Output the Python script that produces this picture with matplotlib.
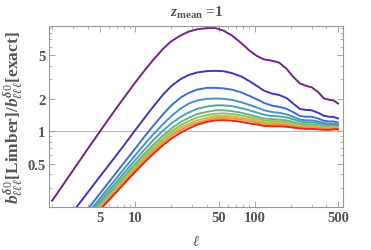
import matplotlib
matplotlib.use("Agg")
import matplotlib.pyplot as plt
from matplotlib.ticker import FixedLocator, NullFormatter

plt.rcParams["mathtext.fontset"] = "custom"
plt.rcParams["mathtext.rm"] = "Liberation Serif"
plt.rcParams["mathtext.it"] = "Liberation Serif:italic:bold"
plt.rcParams["mathtext.bf"] = "Liberation Serif:bold"

# multipole grid
ell = [2, 2.5, 3, 4, 5, 6, 7, 8, 10, 12, 14, 17, 20, 24, 28, 33, 40, 47, 55, 65, 77, 90,
       105, 120, 140, 160, 185, 210, 240, 270, 300, 340, 380, 420, 460, 500]

# ratio b[Limber]/b[exact], one list per curve (purple -> red)
r_purple = [0.229, 0.327, 0.438, 0.693, 0.986, 1.31, 1.66, 2.03, 2.83, 3.66, 4.51, 5.73, 6.75, 7.65, 8.28, 8.7,
            8.91, 8.91, 8.43, 7.57, 6.5, 5.56, 4.91, 4.59, 4.46, 4.29, 3.76, 3.18, 2.75, 2.62, 2.54, 2.3,
            2.01, 1.95, 1.92, 1.8]
r_indigo = [0.102, 0.141, 0.182, 0.275, 0.379, 0.491, 0.612, 0.741, 1.03, 1.34, 1.67, 2.17, 2.61, 3.03, 3.3, 3.48,
            3.58, 3.6, 3.57, 3.42, 3.2, 2.9, 2.6, 2.36, 2.22, 2.16, 2.02, 1.8, 1.6, 1.57, 1.56, 1.48,
            1.39, 1.36, 1.35, 1.31]
r_blue = [0.073, 0.1, 0.129, 0.193, 0.264, 0.341, 0.424, 0.511, 0.698, 0.902, 1.11, 1.43, 1.73, 2.05, 2.26, 2.42,
          2.51, 2.51, 2.48, 2.41, 2.28, 2.12, 1.96, 1.82, 1.72, 1.68, 1.61, 1.5, 1.38, 1.36, 1.36, 1.31,
          1.25, 1.23, 1.23, 1.2]
r_ltblue = [0.069, 0.093, 0.119, 0.176, 0.238, 0.305, 0.375, 0.449, 0.604, 0.765, 0.929, 1.16, 1.38, 1.62, 1.8, 1.92,
            1.99, 2.0, 1.99, 1.94, 1.85, 1.75, 1.65, 1.56, 1.5, 1.48, 1.43, 1.36, 1.28, 1.26, 1.26, 1.23,
            1.19, 1.17, 1.17, 1.15]
r_teal = [0.068, 0.09, 0.115, 0.167, 0.223, 0.282, 0.345, 0.41, 0.546, 0.684, 0.82, 1.01, 1.18, 1.36, 1.49, 1.61,
          1.69, 1.73, 1.73, 1.7, 1.63, 1.56, 1.48, 1.42, 1.38, 1.37, 1.34, 1.29, 1.23, 1.21, 1.21, 1.19,
          1.15, 1.14, 1.14, 1.13]
r_green = [0.066, 0.0875, 0.11, 0.159, 0.211, 0.265, 0.323, 0.382, 0.504, 0.627, 0.746, 0.912, 1.06, 1.22, 1.33, 1.44,
           1.51, 1.56, 1.56, 1.53, 1.48, 1.42, 1.36, 1.31, 1.29, 1.28, 1.26, 1.22, 1.17, 1.16, 1.16, 1.14,
           1.11, 1.11, 1.11, 1.11]
r_ygreen = [0.064, 0.085, 0.107, 0.153, 0.202, 0.254, 0.308, 0.364, 0.478, 0.592, 0.703, 0.857, 0.993, 1.14, 1.24, 1.34,
            1.41, 1.45, 1.46, 1.44, 1.4, 1.35, 1.3, 1.26, 1.24, 1.23, 1.21, 1.18, 1.14, 1.13, 1.13, 1.11,
            1.09, 1.09, 1.1, 1.09]
r_yellow = [0.064, 0.084, 0.105, 0.15, 0.198, 0.247, 0.299, 0.352, 0.459, 0.568, 0.673, 0.817, 0.944, 1.08, 1.17, 1.26,
            1.33, 1.38, 1.385, 1.37, 1.33, 1.29, 1.25, 1.21, 1.19, 1.19, 1.17, 1.14, 1.11, 1.1, 1.1, 1.09,
            1.07, 1.07, 1.08, 1.07]
r_orange = [0.063, 0.083, 0.103, 0.147, 0.193, 0.24, 0.29, 0.341, 0.445, 0.548, 0.649, 0.785, 0.906, 1.03, 1.12, 1.2,
            1.27, 1.32, 1.325, 1.31, 1.28, 1.24, 1.2, 1.17, 1.15, 1.15, 1.14, 1.11, 1.09, 1.08, 1.08, 1.07,
            1.05, 1.05, 1.06, 1.06]
r_red = [0.062, 0.081, 0.101, 0.143, 0.187, 0.232, 0.279, 0.327, 0.425, 0.521, 0.615, 0.743, 0.855, 0.97, 1.06, 1.15,
         1.22, 1.26, 1.265, 1.25, 1.22, 1.18, 1.15, 1.12, 1.11, 1.11, 1.1, 1.08, 1.06, 1.05, 1.05, 1.04,
         1.03, 1.03, 1.04, 1.04]

curves = [r_purple, r_indigo, r_blue, r_ltblue, r_teal, r_green, r_ygreen, r_yellow, r_orange, r_red]
colors = ["#7A1F8E", "#4433C8", "#3B6FD6", "#4592C8", "#4FA4A8",
          "#6BB384", "#98BE63", "#C9BC4A", "#E49A38", "#E52720"]

xticks = [5, 10, 50, 100, 500]
yticks = [0.5, 1, 2, 5]

grey = "#555555"

fig = plt.figure(figsize=(3.71, 2.51), dpi=100)
ax = fig.add_axes([0.1334, 0.171, 0.791, 0.721])

ax.axhline(1, color="#bbbbbb", lw=0.8, zorder=0)
for vals, c in zip(curves, colors):
    ax.plot(ell, vals, color=c, lw=1.4, solid_joinstyle="round")

ax.set_xscale("log")
ax.set_yscale("log")
ax.set_xlim(1.9, 550)
ax.set_ylim(0.2, 9.3)

ax.xaxis.set_major_locator(FixedLocator(xticks))
ax.xaxis.set_minor_locator(FixedLocator([2, 3, 4, 6, 7, 8, 9, 20, 30, 40, 60, 70, 80, 90, 200, 300, 400]))
ax.yaxis.set_major_locator(FixedLocator(yticks))
ax.yaxis.set_minor_locator(FixedLocator([0.3, 0.4, 0.6, 0.7, 0.8, 0.9, 3, 4, 6, 7, 8, 9]))
ax.set_xticklabels([str(t) for t in xticks])
ax.set_yticklabels(["0.5", "1", "2", "5"])
ax.xaxis.set_minor_formatter(NullFormatter())
ax.yaxis.set_minor_formatter(NullFormatter())

ax.tick_params(which="both", direction="in", top=True, right=True, color="#999999")
ax.tick_params(which="major", length=4, width=0.6, labelsize=10.5, labelcolor=grey, pad=3)
ax.tick_params(which="minor", length=2, width=0.5)
for lab in ax.get_xticklabels() + ax.get_yticklabels():
    lab.set_family("Liberation Serif")
    lab.set_fontweight("bold")
for s in ax.spines.values():
    s.set_color("#999999")
    s.set_linewidth(0.8)

ax.set_title(r"$z_{\mathbf{mean}}$ =1", fontsize=11, color=grey,
             family="Liberation Serif", fontweight="bold", pad=7)
ax.set_xlabel(r"$\ell$", fontsize=11, color=grey, labelpad=6)
ax.set_ylabel(r"$b^{\delta0}_{\ell\ell\ell}$[Limber]/$b^{\delta0}_{\ell\ell\ell}$[exact]",
              fontsize=12.5, color=grey, family="Liberation Serif", fontweight="bold", labelpad=1)

fig.savefig("out.png", dpi=100)
